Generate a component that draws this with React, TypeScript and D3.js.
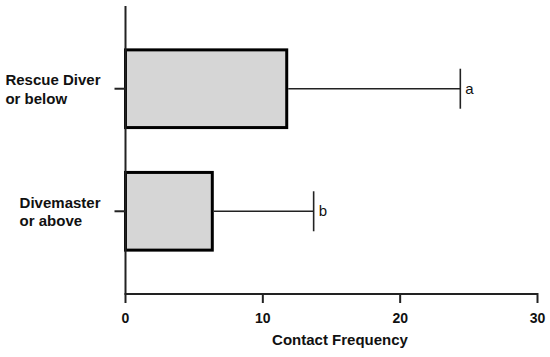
import React, { useEffect, useRef } from "react";
import * as d3 from "d3";

const categories = ["Rescue Diver or below", "Divemaster or above"];
const labelLines = [
	["Rescue Diver", "or below"],
	["Divemaster", "or above"],
];
const means = [11.74, 6.32];
const upperErrors = [24.38, 13.7];
const letters = ["a", "b"];
const xTicks = [0, 10, 20, 30];

const W = 550;
const H = 357;
const FONT = "'Liberation Sans', Arial, Helvetica, sans-serif";

export default function App() {
	const ref = useRef<SVGSVGElement>(null);

	useEffect(() => {
		const svg = d3.select(ref.current);
		svg.selectAll("*").remove();

		// Scales
		const x = d3.scaleLinear().domain([0, 30]).range([125.5, 537.5]);
		const y = d3
			.scaleBand<string>()
			.domain(categories)
			.range([6, 294])
			.paddingInner(0.366)
			.paddingOuter(0.358);

		const axisColor = "#222";

		// Bars
		svg
			.append("g")
			.selectAll("rect")
			.data(categories)
			.join("rect")
			.attr("x", x(0))
			.attr("y", (d) => y(d)!)
			.attr("width", (d, i) => x(means[i]) - x(0))
			.attr("height", y.bandwidth())
			.attr("fill", "#d6d6d6")
			.attr("stroke", "#000")
			.attr("stroke-width", 3);

		// Error bars
		const err = svg.append("g").attr("stroke", "#222").attr("stroke-width", 1.6);
		categories.forEach((c, i) => {
			const cy = y(c)! + y.bandwidth() / 2;
			err
				.append("line")
				.attr("x1", x(means[i]) + 1.5)
				.attr("x2", x(upperErrors[i]))
				.attr("y1", cy)
				.attr("y2", cy);
			err
				.append("line")
				.attr("x1", x(upperErrors[i]))
				.attr("x2", x(upperErrors[i]))
				.attr("y1", cy - 20)
				.attr("y2", cy + 20);
			svg
				.append("text")
				.attr("x", x(upperErrors[i]) + 5)
				.attr("y", cy + 5)
				.attr("font-family", FONT)
				.attr("font-size", 15)
				.attr("fill", "#111")
				.text(letters[i]);
		});

		// x-axis
		const xAxis = svg.append("g").attr("transform", `translate(0, 294)`);
		xAxis
			.append("line")
			.attr("x1", x(0))
			.attr("x2", x(30))
			.attr("stroke", axisColor)
			.attr("stroke-width", 2);
		xAxis
			.selectAll("line.tick")
			.data(xTicks)
			.join("line")
			.attr("class", "tick")
			.attr("x1", (d) => x(d))
			.attr("x2", (d) => x(d))
			.attr("y1", -1)
			.attr("y2", 9)
			.attr("stroke", axisColor)
			.attr("stroke-width", 2);
		xAxis
			.selectAll("text")
			.data(xTicks)
			.join("text")
			.attr("x", (d) => x(d))
			.attr("y", 29)
			.attr("text-anchor", "middle")
			.attr("font-family", FONT)
			.attr("font-size", 14)
			.attr("font-weight", "bold")
			.attr("fill", "#111")
			.text((d) => d);

		// x-axis Label
		svg
			.append("text")
			.attr("x", 340)
			.attr("y", 345)
			.attr("text-anchor", "middle")
			.attr("font-family", FONT)
			.attr("font-size", 15)
			.attr("font-weight", "bold")
			.attr("fill", "#111")
			.text("Contact Frequency");

		// y-axis
		svg
			.append("line")
			.attr("x1", x(0))
			.attr("x2", x(0))
			.attr("y1", 6)
			.attr("y2", 295)
			.attr("stroke", axisColor)
			.attr("stroke-width", 2);

		categories.forEach((c, i) => {
			const cy = y(c)! + y.bandwidth() / 2;
			svg
				.append("line")
				.attr("x1", x(0) - 11)
				.attr("x2", x(0))
				.attr("y1", cy)
				.attr("y2", cy)
				.attr("stroke", axisColor)
				.attr("stroke-width", 2);

			// category label, lines left-aligned, block right-aligned
			const g = svg.append("g");
			const texts = labelLines[i].map((line, j) =>
				g
					.append("text")
					.attr("y", cy - 3.5 + j * 18.5)
					.attr("font-family", FONT)
					.attr("font-size", 15)
					.attr("font-weight", "bold")
					.attr("fill", "#111")
					.text(line)
			);
			const widest = d3.max(texts, (t) => (t.node() as SVGTextElement).getComputedTextLength()) ?? 0;
			texts.forEach((t) => t.attr("x", 100.5 - widest));
		});
	}, []);

	return (
		<svg
			ref={ref}
			width={W}
			height={H}
			viewBox={`0 0 ${W} ${H}`}
			style={{ position: "absolute", left: 0, top: 0, background: "#fff" }}
		/>
	);
}
